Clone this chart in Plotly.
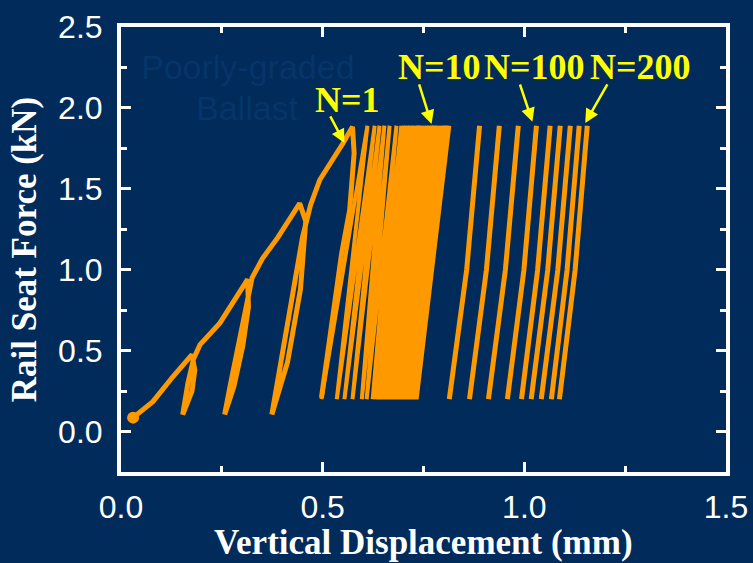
import plotly.graph_objects as go

BG = "#002B5A"
ORANGE = "#FF9900"
YELLOW = "#FFFF00"
FAINT = "#05356A"

# ---- data (x: displacement mm, y: force kN) ----
# virgin loading with the first three unload/reload cycles, then unload after peak 4
init_x = [0.030, 0.079, 0.129, 0.176, 0.183, 0.176, 0.153, 0.166, 0.180, 0.196, 0.245,
          0.277, 0.314, 0.316, 0.302, 0.280, 0.257, 0.272, 0.292, 0.310, 0.325, 0.351,
          0.389, 0.443, 0.458, 0.445, 0.413, 0.374, 0.395, 0.425, 0.450, 0.470, 0.493,
          0.550, 0.574, 0.578, 0.567, 0.547, 0.525, 0.497]
init_y = [0.086, 0.185, 0.340, 0.475, 0.380, 0.250, 0.105, 0.300, 0.450, 0.537, 0.670,
          0.800, 0.940, 0.770, 0.530, 0.280, 0.105, 0.300, 0.550, 0.800, 0.950, 1.070,
          1.200, 1.410, 1.300, 0.880, 0.430, 0.105, 0.400, 0.850, 1.200, 1.400, 1.556,
          1.780, 1.883, 1.720, 1.370, 1.100, 0.710, 0.210]

cycle_min_force = 0.20
cycle_max_force = 1.89

# cycles N = 1 ... ~20 (dense block)
dense_bottom_x = [0.497, 0.535, 0.554, 0.574, 0.597, 0.609, 0.624,
                  0.630, 0.634, 0.638, 0.642, 0.646, 0.650, 0.654, 0.658, 0.662,
                  0.666, 0.670, 0.674, 0.678, 0.682, 0.686, 0.690, 0.694, 0.698,
                  0.702, 0.706, 0.710, 0.714, 0.718, 0.722, 0.726, 0.730, 0.733]
dense_top_x = [0.611, 0.629, 0.641, 0.653, 0.666, 0.683, 0.695,
               0.702, 0.707, 0.712, 0.716, 0.720, 0.725, 0.729, 0.733, 0.738,
               0.742, 0.746, 0.751, 0.755, 0.759, 0.764, 0.768, 0.772, 0.777,
               0.781, 0.785, 0.790, 0.794, 0.798, 0.803, 0.807, 0.811, 0.814]

# later recorded cycles (separate loops up to N = 200)
sep_bottom_x = [0.814, 0.864, 0.911, 0.958, 0.993, 1.017, 1.042, 1.067, 1.087]
sep_mid_x = [0.857, 0.906, 0.953, 0.999, 1.033, 1.058, 1.083, 1.106, 1.126]
sep_top_x = [0.889, 0.938, 0.985, 1.030, 1.064, 1.089, 1.114, 1.136, 1.156]
sep_mid_y = 1.00

labels = ["N=1", "N=10", "N=100", "N=200"]
label_x = [0.562, 0.790, 1.025, 1.287]
label_y = [2.05, 2.253, 2.253, 2.253]
arrow_tail_x = [0.517, 0.738, 0.988, 1.208]
arrow_tail_y = [1.957, 2.154, 2.154, 2.154]
arrow_head_x = [0.554, 0.770, 1.020, 1.151]
arrow_head_y = [1.783, 1.901, 1.914, 1.907]

# ---- build paths ----
dx, dy = [], []
for b, t in zip(dense_bottom_x, dense_top_x):
    dx += [b, t]
    dy += [cycle_min_force, cycle_max_force]

sx, sy = [], []
for b, m, t in zip(sep_bottom_x, sep_mid_x, sep_top_x):
    sx += [b, m, t, None]
    sy += [cycle_min_force, sep_mid_y, cycle_max_force, None]

fig = go.Figure()
fig.add_trace(go.Scatter(x=init_x, y=init_y, mode="lines", line=dict(color=ORANGE, width=5),
                         hoverinfo="skip"))
fig.add_trace(go.Scatter(x=dx, y=dy, mode="lines", line=dict(color=ORANGE, width=4),
                         hoverinfo="skip"))
fig.add_trace(go.Scatter(x=sx, y=sy, mode="lines", line=dict(color=ORANGE, width=5),
                         hoverinfo="skip"))
fig.add_trace(go.Scatter(x=init_x[:1], y=init_y[:1], mode="markers",
                         marker=dict(color=ORANGE, size=12), hoverinfo="skip"))

serif = "Liberation Serif, Times New Roman, serif"
sans = "Liberation Sans, Arial, sans-serif"

annotations = []
annotations.append(dict(x=0.314, y=2.25, text="Poorly-graded", showarrow=False,
                        font=dict(family=sans, size=34, color=FAINT)))
annotations.append(dict(x=0.314, y=2.0, text="Ballast", showarrow=False,
                        font=dict(family=sans, size=34, color=FAINT)))
for hx, hy, tx, ty in zip(arrow_head_x, arrow_head_y, arrow_tail_x, arrow_tail_y):
    annotations.append(dict(x=hx, y=hy, ax=tx, ay=ty, axref="x", ayref="y", text="",
                            showarrow=True, arrowhead=2, arrowsize=1.1, arrowwidth=2.5,
                            arrowcolor=YELLOW))
for t, lx, ly in zip(labels, label_x, label_y):
    annotations.append(dict(x=lx, y=ly, text="<b>%s</b>" % t, showarrow=False,
                            font=dict(family=serif, size=36, color=YELLOW)))
# x-axis title placed below the tick labels
annotations.append(dict(x=0.5, y=0, xref="paper", yref="paper", yanchor="bottom",
                        yshift=-91, borderpad=0,
                        text="<b>Vertical Displacement (mm)</b>", showarrow=False,
                        font=dict(family=serif, size=35, color="white")))

axis_common = dict(
    showline=True, linecolor="white", linewidth=4, mirror="allticks",
    ticks="inside", ticklen=10, tickwidth=3, tickcolor="white",
    showgrid=False, zeroline=False, automargin=False,
    tickfont=dict(family=sans, size=32, color="white"),
    minor=dict(ticks="inside", ticklen=6, tickwidth=3, tickcolor="white", dtick=0.25, showgrid=False),
)

fig.update_layout(
    width=753, height=563,
    margin=dict(l=121, r=27, t=27, b=91),
    paper_bgcolor=BG, plot_bgcolor=BG,
    showlegend=False,
    xaxis=dict(range=[0, 1.5], dtick=0.5, tickformat=".1f", ticklabelstandoff=4,
               **axis_common),
    yaxis=dict(range=[-0.25, 2.5], dtick=0.5, tickformat=".1f", ticklabelstandoff=8,
               title=dict(text="<b>Rail Seat Force (kN)</b>", standoff=12,
                          font=dict(family=serif, size=35, color="white")),
               **axis_common),
    annotations=annotations,
)

fig.write_html("out.html")
